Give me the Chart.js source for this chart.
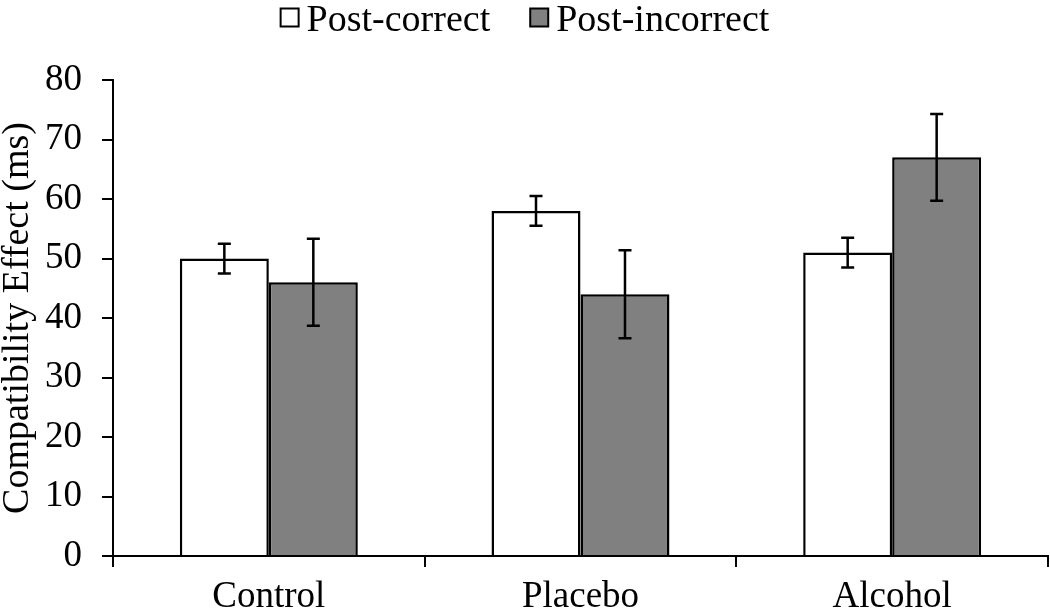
<!DOCTYPE html>
<html>
<head>
<meta charset="utf-8">
<script src="https://cdn.jsdelivr.net/npm/chart.js@4/dist/chart.umd.min.js"></script>
<style>
  html, body { margin: 0; padding: 0; background: #fff; }
  #wrap { width: 1050px; height: 615px; }
</style>
</head>
<body>
<div id="wrap"><canvas id="chart" width="1050" height="615"></canvas></div>
<script>
// values
var groups = ['Control', 'Placebo', 'Alcohol'];
var seriesNames = ['Post-correct', 'Post-incorrect'];
var postCorrect = [50, 58, 51];
var postIncorrect = [46, 44, 67];
var postCorrectErr = [2.5, 2.5, 2.5];
var postIncorrectErr = [7.3, 7.4, 7.3];
var yTicks = [0, 10, 20, 30, 40, 50, 60, 70, 80];

var serif = "'Liberation Serif', 'Times New Roman', serif";

/** error bars drawn from each bar's own position and the y scale */
var errorBars = {
  id: 'errorBars',
  afterDatasetsDraw: function(chart) {
    var ctx = chart.ctx;
    var y = chart.scales.y;
    ctx.save();
    ctx.strokeStyle = '#000';
    ctx.lineWidth = 2.5;
    chart.data.datasets.forEach(function(ds, i) {
      var meta = chart.getDatasetMeta(i);
      meta.data.forEach(function(bar, j) {
        var v = ds.data[j], e = ds.errors[j];
        var top = y.getPixelForValue(v + e);
        var bot = y.getPixelForValue(v - e);
        var x = bar.x, cap = 6.5;
        ctx.beginPath();
        ctx.moveTo(x, top); ctx.lineTo(x, bot);
        ctx.moveTo(x - cap, top); ctx.lineTo(x + cap, top);
        ctx.moveTo(x - cap, bot); ctx.lineTo(x + cap, bot);
        ctx.stroke();
      });
    });
    ctx.restore();
  }
};

/** legend at the top: small square, short gap, label */
var topLegend = {
  id: 'topLegend',
  afterDraw: function(chart) {
    var ctx = chart.ctx;
    var box = 18, gap = 8, itemGap = 40;
    ctx.save();
    ctx.font = '38px ' + serif;
    var items = chart.data.datasets.map(function(ds) {
      return { label: ds.label, fill: ds.backgroundColor, w: ctx.measureText(ds.label).width };
    });
    var total = 0;
    items.forEach(function(it, i) {
      total += box + gap + it.w + (i ? itemGap : 0);
    });
    var x = chart.width / 2 - total / 2;
    items.forEach(function(it) {
      ctx.fillStyle = it.fill;
      ctx.fillRect(x, 8.5, box, box);
      ctx.strokeStyle = '#000';
      ctx.lineWidth = 2;
      ctx.strokeRect(x, 8.5, box, box);
      ctx.fillStyle = '#000';
      ctx.textBaseline = 'alphabetic';
      ctx.fillText(it.label, x + box + gap, 31);
      x += box + gap + it.w + itemGap;
    });
    ctx.restore();
  }
};

var ctx = document.getElementById('chart').getContext('2d');
var chart = new Chart(ctx, {
  type: 'bar',
  data: {
    labels: groups,
    datasets: [{
      label: seriesNames[0],
      data: postCorrect,
      errors: postCorrectErr,
      backgroundColor: '#ffffff',
      borderColor: '#000000',
      borderWidth: 2.5
    }, {
      label: seriesNames[1],
      data: postIncorrect,
      errors: postIncorrectErr,
      backgroundColor: '#808080',
      borderColor: '#000000',
      borderWidth: 2.5
    }]
  },
  options: {
    responsive: false,
    animation: false,
    layout: { padding: { top: 80, right: 2, left: 0, bottom: 0 } },
    categoryPercentage: 0.571,
    barPercentage: 1.0,
    plugins: {
      legend: { display: false },
      tooltip: { enabled: false }
    },
    scales: {
      x: {
        grid: { drawOnChartArea: false, drawTicks: true, tickLength: 11, color: '#000', lineWidth: 2, offset: true },
        border: { color: '#000', width: 2 },
        ticks: { color: '#000', padding: 8, font: { family: serif, size: 37 } },
        afterFit: function(scale) { scale.height = 59; }
      },
      y: {
        min: 0,
        max: 80,
        afterBuildTicks: function(scale) {
          scale.ticks = yTicks.map(function(v) { return { value: v }; });
        },
        grid: { drawOnChartArea: false, drawTicks: true, tickLength: 11, color: '#000', lineWidth: 2 },
        border: { color: '#000', width: 2 },
        ticks: { color: '#000', padding: 20, font: { family: serif, size: 37 } },
        title: {
          display: true,
          text: 'Compatibility Effect (ms)',
          color: '#000',
          padding: 0,
          font: { family: serif, size: 38, lineHeight: 0.95 }
        },
        afterFit: function(scale) { scale.width = 113; }
      }
    }
  },
  plugins: [errorBars, topLegend]
});
</script>
</body>
</html>
